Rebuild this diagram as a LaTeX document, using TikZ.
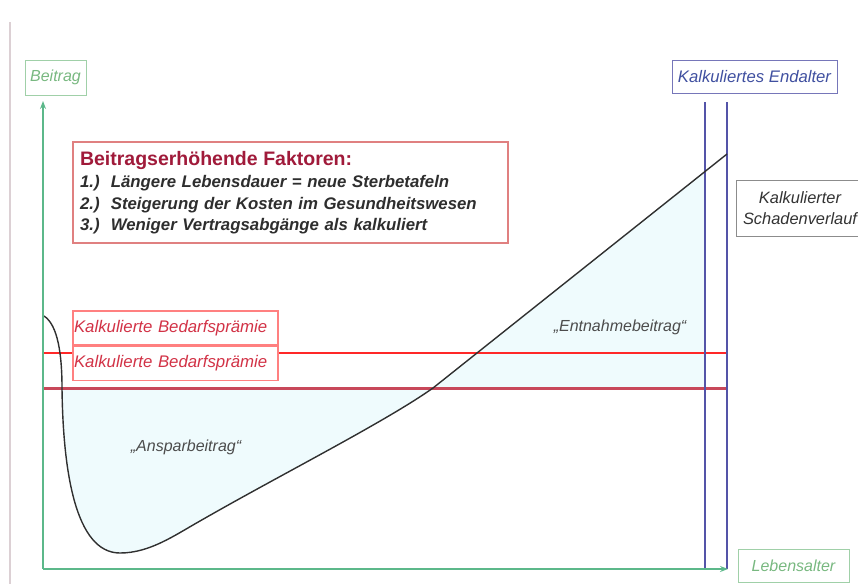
\documentclass[tikz,border=0pt]{standalone}
\usepackage{fontspec}
\setmainfont{Liberation Sans}
\usetikzlibrary{arrows.meta}

\definecolor{axisgreen}{RGB}{92,184,138}
\definecolor{boxgreen}{RGB}{160,208,168}
\definecolor{textgreen}{RGB}{120,184,128}
\definecolor{endpurple}{RGB}{84,84,168}
\definecolor{endtext}{RGB}{64,80,160}
\definecolor{redline}{RGB}{255,40,40}
\definecolor{darkredline}{RGB}{200,72,90}
\definecolor{redbox}{RGB}{255,128,128}
\definecolor{redtext}{RGB}{210,50,70}
\definecolor{factorred}{RGB}{160,26,58}
\definecolor{factorbox}{RGB}{224,128,128}
\definecolor{fillcyan}{RGB}{239,251,253}
\definecolor{curvegray}{RGB}{48,48,48}
\definecolor{edgegray}{RGB}{220,208,212}

\begin{document}
\begin{tikzpicture}[
        x=1pt, y=-1pt,
        >={Stealth[length=8pt,width=6pt]},
        axis/.style={draw=axisgreen, line width=2.5pt},
        limitline/.style={draw=endpurple, line width=1.6pt},
        labelbox/.style={draw=boxgreen, line width=1pt, text=textgreen, inner sep=0pt,
            font=\fontsize{16}{19}\selectfont\itshape},
        endbox/.style={draw=endpurple!80, line width=1pt, text=endtext, inner sep=0pt,
            minimum width=165pt, minimum height=33pt, font=\fontsize{16.7}{19}\selectfont\itshape},
        premiumbox/.style={draw=redbox, line width=1.2pt, fill=white, text=redtext,
            minimum height=34pt, text width=203pt, inner xsep=1pt, inner ysep=0pt, align=left,
            font=\fontsize{16.8}{19}\selectfont\itshape},
        areatext/.style={text=black!70, font=\fontsize{16}{19}\selectfont\itshape}
    ]

    \clip (0,0) rectangle (858,584);

    % page edge
    \draw[edgegray, line width=1.5pt] (10,22) -- (10,584);

    % area between premium and claims
    \fill[fillcyan] (62,388) .. controls (63,470) and (75,553) .. (120,553)
        .. controls (150,553) and (175,535) .. (200,521)
        .. controls (280,475) and (385,422) .. (433,388)
        -- (705,171.5) -- (705,388) -- cycle;

    % premium lines
    \draw[redline, line width=2pt] (43,353) -- (728,353);
    \draw[darkredline, line width=3pt] (43,388) -- (728,388);

    % end age
    \coordinate (endA top) at (705,102);
    \coordinate (endA bot) at (705,569);
    \coordinate (endB top) at (727,102);
    \coordinate (endB bot) at (727,569);
    \draw[limitline] (endA top) -- (endA bot);
    \draw[limitline] (endB top) -- (endB bot);

    % claims curve
    \coordinate (curvestart) at (44,316);
    \coordinate (curveend) at (727,154);
    \draw[curvegray, line width=1.4pt] (curvestart) .. controls (58,325) and (62,355) .. (62,388)
        .. controls (63,470) and (75,553) .. (120,553)
        .. controls (150,553) and (175,535) .. (200,521)
        .. controls (280,475) and (385,422) .. (433,388)
        -- (curveend);

    % axes
    \coordinate (origin) at (43,569);
    \coordinate (ytop) at (43,101);
    \coordinate (xend) at (728,569);
    \draw[axis, ->] (origin) -- (ytop);
    \draw[axis, ->] (origin) -- (xend);

    % labels
    \node[labelbox, minimum width=61pt, minimum height=35pt] (contrib) at (55.5,77.5) {Beitrag};
    \node[labelbox, minimum width=111pt, minimum height=33pt] (age) at (793.5,565.5) {Lebensalter};
    \node[endbox] (endage) at (754.5,76.5) {Kalkuliertes Endalter};
    \node[draw=black!45, line width=1pt, fill=white, minimum width=128pt, minimum height=56pt,
        align=center, text=black!80, font=\fontsize{16.4}{21}\selectfont\itshape]
        (claims) at (800,208) {Kalkulierter\\Schadenverlauf};

    \node[premiumbox] (premium1) at (175.5,328) {Kalkulierte Bedarfsprämie};
    \node[premiumbox] (premium2) at (175.5,363.5) {Kalkulierte Bedarfsprämie};

    \node[areatext] (saving) at (186,447) {„Ansparbeitrag“};
    \node[areatext] (withdraw) at (620,327) {„Entnahmebeitrag“};

    % factors
    \node[draw=factorbox, line width=1.2pt, fill=white, minimum width=435pt, minimum height=101pt,
        text width=421pt, inner xsep=7pt, align=left, text=black!82,
        font=\fontsize{16.8}{21.5}\selectfont\bfseries\itshape] (factors) at (290.5,192.5)
        {{\fontsize{19.5}{23}\selectfont\upshape\color{factorred}Beitragserhöhende Faktoren:}\\[1pt]
         1.)\ \ Längere Lebensdauer = neue Sterbetafeln\\
         2.)\ \ Steigerung der Kosten im Gesundheitswesen\\
         3.)\ \ Weniger Vertragsabgänge als kalkuliert};

\end{tikzpicture}
\end{document}
